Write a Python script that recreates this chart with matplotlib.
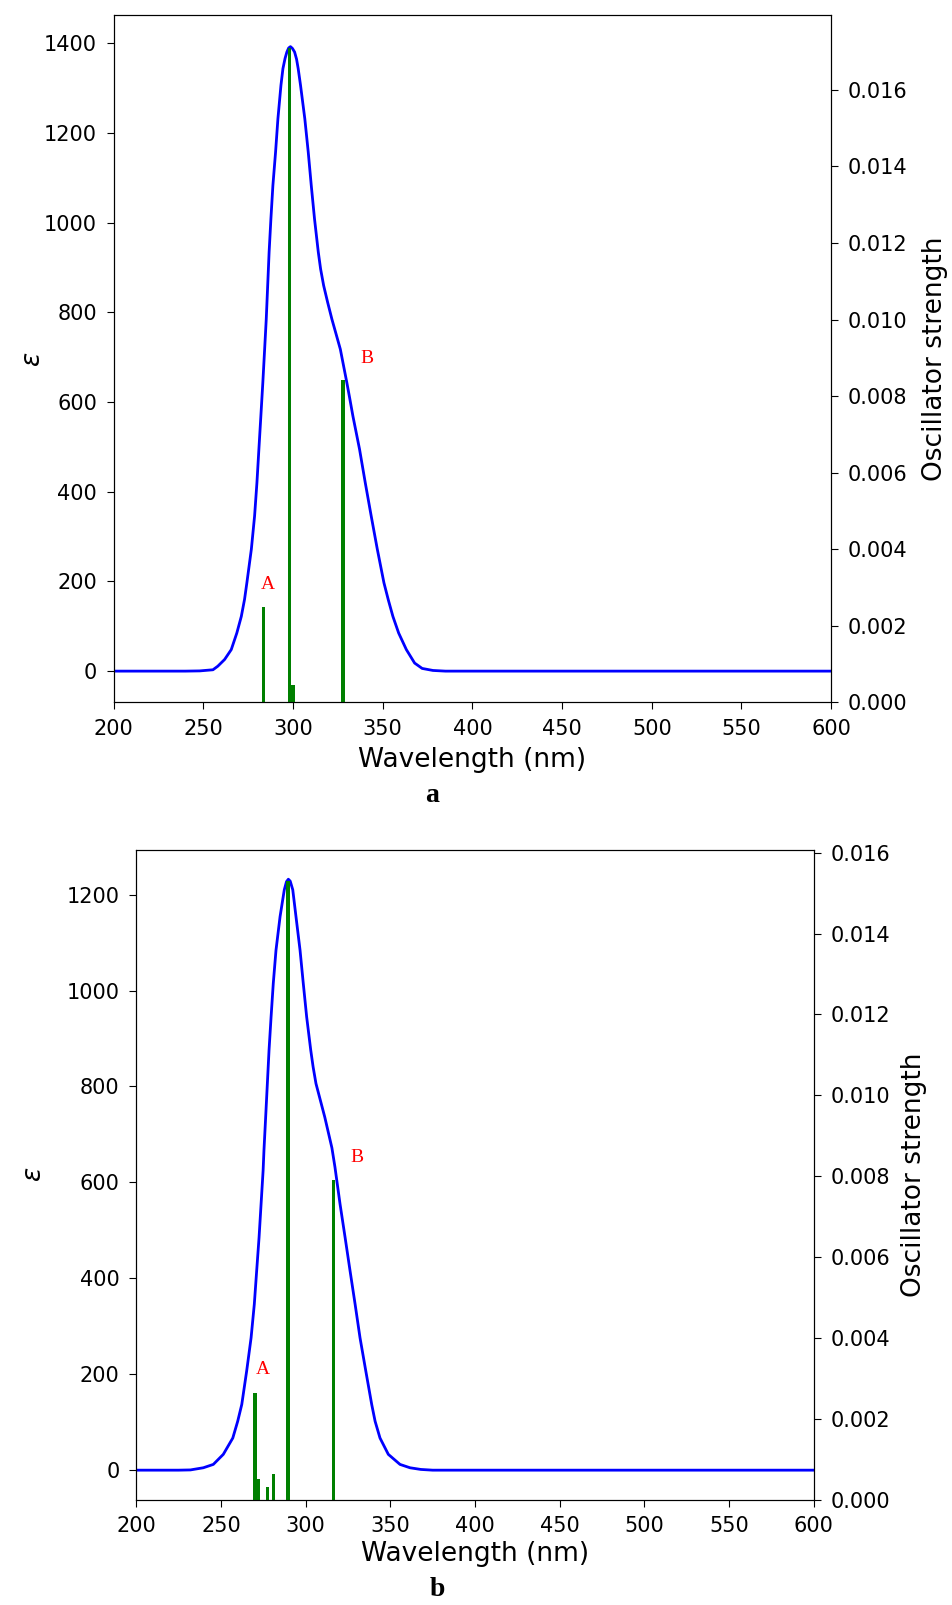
import matplotlib
matplotlib.use("Agg")
import matplotlib.pyplot as plt
from matplotlib.ticker import FormatStrFormatter

# ---------------- Panel a data ----------------
wl_a = [200, 240, 248, 255.4, 258.1, 261.9, 265.6, 268.7, 271.2, 273.0, 274.3,
        276.8, 278.6, 279.9, 281.0, 282.1, 283.2, 284.2, 285.1, 285.9, 286.7,
        287.7, 288.8, 290.3, 291.6, 293.3, 294.4, 295.6, 296.6, 297.6, 298.6,
        299.7, 300.9, 302.0, 302.9, 304.2, 306.6, 308.5, 310.2, 312.0, 314.1,
        315.4, 317.1, 319.3, 321.7, 324.3, 326.4, 328.2, 330.0, 331.7, 333.4,
        337.1, 340.3, 343.6, 347.0, 350.7, 353.2, 355.7, 358.9, 363.2, 367.8,
        372, 378, 385, 600]
eps_a = [0, 0, 0.5, 3, 11, 26, 48, 85, 122, 160, 197,
         272, 346, 420, 495, 569, 644, 718, 785, 860, 935,
         1009, 1083, 1158, 1232, 1307, 1344, 1367, 1381, 1390, 1393,
         1389, 1381, 1365, 1344, 1307, 1232, 1158, 1083, 1009, 935,
         897, 860, 823, 785, 748, 718, 681, 644, 607, 569,
         495, 420, 346, 272, 197, 158, 122, 85, 48, 18,
         6, 1.5, 0, 0]
stick_wl_a = [283.7, 298.2, 300.0, 327.9]
stick_f_a = [0.00250, 0.01709, 0.00045, 0.00841]
labels_a = ["A", "B"]
label_pos_a = [(286.0, 0.00307), (341.2, 0.00899)]

# ---------------- Panel b data ----------------
wl_b = [200, 225, 232, 239.6, 245.5, 251.4, 257.0, 259.9, 262.3, 265.2, 267.8,
        269.7, 271.1, 272.5, 273.7, 274.9, 275.4, 276.4, 277.4, 278.4, 279.6,
        280.9, 282.5, 284.9, 287.4, 288.7, 289.8, 290.9, 292.4, 294.3, 296.7,
        298.6, 300.6, 303.0, 304.4, 306.1, 308.7, 311.3, 313.6, 315.5, 317.3,
        320.3, 323.3, 326.2, 329.2, 332.1, 335.5, 339.0, 341.0, 343.9, 348.8,
        355.7, 361.6, 368, 375, 600]
eps_b = [0, 0, 0.5, 5, 12, 33, 67, 102, 137, 207, 276,
         346, 416, 485, 555, 625, 667, 736, 806, 876, 945,
         1015, 1084, 1154, 1210, 1227, 1232, 1228, 1210, 1154, 1084,
         1015, 945, 876, 841, 806, 771, 736, 701, 672, 632,
         555, 485, 416, 346, 276, 207, 137, 102, 67, 33,
         12, 5, 1.5, 0, 0]
stick_wl_b = [270.1, 272.1, 277.6, 281.3, 289.6, 316.2]
stick_f_b = [0.00263, 0.00050, 0.00032, 0.00063, 0.01531, 0.00791]
labels_b = ["A", "B"]
label_pos_b = [(274.7, 0.00321), (330.5, 0.00847)]

x_ticks = [200, 250, 300, 350, 400, 450, 500, 550, 600]
captions = ["a", "b"]

TICK_FS = 15
LABEL_FS = 19

fig = plt.figure(figsize=(9.52, 16.05), dpi=100)


def panel(rect, wl, eps, swl, sf, labs, lpos, yl_x, yr_x, xl_y):
    ax = fig.add_axes(rect)
    ax.plot(wl, eps, color="blue", lw=2.0)
    ax.set_xlim(200, 600)
    ax.set_xticks(x_ticks)
    ax.tick_params(labelsize=TICK_FS, length=5, pad=7)
    ax.set_xlabel("Wavelength (nm)", fontsize=LABEL_FS, va="center")
    ax.xaxis.set_label_coords(0.5, xl_y)
    ax.set_ylabel(r"$\varepsilon$", fontsize=LABEL_FS, va="center")
    ax.yaxis.set_label_coords(yl_x, 0.5)
    ax2 = ax.twinx()
    ax2.bar(swl, sf, width=1.8, color="green")
    ax2.set_xlim(200, 600)
    ax2.tick_params(labelsize=TICK_FS, length=5, pad=7)
    ax2.yaxis.set_major_formatter(FormatStrFormatter("%.3f"))
    ax2.set_ylabel("Oscillator strength", fontsize=LABEL_FS, va="center")
    ax2.yaxis.set_label_coords(yr_x, 0.5)
    for t, (x, y) in zip(labs, lpos):
        ax2.text(x, y, t, color="red", fontsize=14, family="Liberation Serif",
                 ha="center", va="center")
    return ax, ax2


panel([0.1193, 0.5624, 0.7538, 0.4280], wl_a, eps_a, stick_wl_a, stick_f_a,
      labels_a, label_pos_a, -0.112, 1.145, -0.0845)
panel([0.1431, 0.0656, 0.7118, 0.4050], wl_b, eps_b, stick_wl_b, stick_f_b,
      labels_b, label_pos_b, -0.151, 1.148, -0.083)

fig.text(432 / 952, 1 - 796 / 1605, captions[0], fontsize=20, fontweight="bold",
         family="Liberation Serif", ha="center", va="center")
fig.text(437 / 952, 1 - 1589 / 1605, captions[1], fontsize=20, fontweight="bold",
         family="Liberation Serif", ha="center", va="center")

fig.savefig("out.png", dpi=100)
